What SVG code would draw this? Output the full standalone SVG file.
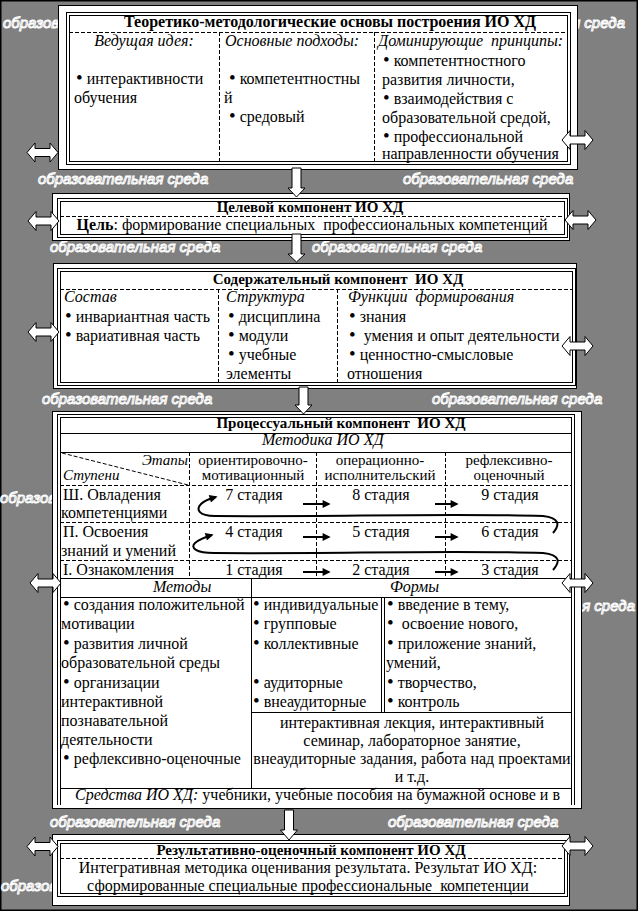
<svg xmlns="http://www.w3.org/2000/svg" width="640" height="912" viewBox="0 0 640 912">
<defs>
<style>
.bg{fill:#808080;stroke:#000;stroke-width:1.5}
.env{font-family:"Liberation Sans",Arial,sans-serif;font-style:italic;font-size:15px;fill:#808080;stroke:#fff;stroke-width:1}
.box{fill:#fff;stroke:#000;stroke-width:1}
.dbl{fill:none;stroke:#000;stroke-width:1}
.dash{fill:none;stroke:#000;stroke-width:1;stroke-dasharray:4 2}
.sol{fill:none;stroke:#000;stroke-width:1}
.t{font-family:"Liberation Serif","Times New Roman",serif;font-size:16px;fill:#000}
.s{font-size:15px}
.h{font-size:15px}
.b{font-weight:bold}
.i{font-style:italic}
.m{text-anchor:middle}
.e{text-anchor:end}
.u{font-size:19px}
.blk{fill:#fff;stroke:#000;stroke-width:1}
.flow{fill:none;stroke:#000;stroke-width:2}
</style>
<path id="dar" d="M0,0 L8,-9.5 L8,-4 L23,-4 L23,-9.5 L31,0 L23,9.5 L23,4 L8,4 L8,9.5 Z"/>
<marker id="ah" viewBox="0 0 10 10" refX="8" refY="5" markerWidth="5" markerHeight="4" orient="auto" markerUnits="strokeWidth">
<path d="M0,0 L10,5 L0,10 Z" fill="#000"/>
</marker>
<clipPath id="gray">
<path clip-rule="evenodd" d="M-10,-10 H650 V920 H-10 Z M58.5,5.5 H577.5 V169.5 H58.5 Z M52.5,193.5 H569.5 V240.5 H52.5 Z M53.5,263.5 H576.5 V388.5 H53.5 Z M52.5,411.5 H581.5 V808.5 H52.5 Z M52.5,834.5 H569.5 V905.5 H52.5 Z"/>
</clipPath>
</defs>
<rect x="0" y="0" width="640" height="912" fill="#fff"/>
<rect class="bg" x="0.75" y="0.75" width="636.5" height="909.5"/>
<g id="environment" clip-path="url(#gray)">
<text class="env" x="3" y="28">образовательная среда</text>
<text class="env e" x="625" y="28">образовательная среда</text>
<text class="env" x="38" y="184">образовательная среда</text>
<text class="env" x="403" y="184">образовательная среда</text>
<text class="env" x="50" y="252">образовательная среда</text>
<text class="env" x="312" y="252">образовательная среда</text>
<text class="env" x="42" y="404">образовательная среда</text>
<text class="env" x="432" y="404">образовательная среда</text>
<text class="env" x="0" y="503">образовательная среда</text>
<text class="env e" x="635" y="611">образовательная среда</text>
<text class="env" x="50" y="827">образовательная среда</text>
<text class="env" x="388" y="827">образовательная среда</text>
<text class="env" x="1" y="891">образовательная среда</text>
</g>
<g id="theory">
<rect class="box" x="58.5" y="5.5" width="519" height="164"/>
<rect class="dbl" x="66.5" y="12.5" width="504" height="152"/>
<rect class="dbl" x="69.5" y="15.5" width="498" height="146"/>
<path class="dash" d="M69,32.5 H568 M219.5,32 V161 M374.5,32 V161"/>
<text class="t b m" x="330" y="27">Теоретико-методологические основы построения ИО ХД</text>
<text class="t i m" x="144" y="46">Ведущая идея:</text>
<text class="t" x="76" y="84"><tspan class="u">•</tspan> интерактивности</text>
<text class="t" x="74" y="103">обучения</text>
<text class="t i" x="225" y="46">Основные подходы:</text>
<text class="t" x="229" y="84"><tspan class="u">•</tspan> компетентностны</text>
<text class="t" x="224" y="103">й</text>
<text class="t" x="229" y="122"><tspan class="u">•</tspan> средовый</text>
<text class="t i" x="378" y="46" xml:space="preserve">Доминирующие  принципы:</text>
<text class="t" x="383" y="66"><tspan class="u">•</tspan> компетентностного</text>
<text class="t" x="382" y="85">развития личности,</text>
<text class="t" x="383" y="104"><tspan class="u">•</tspan> взаимодействия с</text>
<text class="t" x="382" y="123">образовательной средой,</text>
<text class="t" x="383" y="142"><tspan class="u">•</tspan> профессиональной</text>
<text class="t" x="382" y="159">направленности обучения</text>
</g>
<g id="goal">
<rect class="box" x="52.5" y="193.5" width="517" height="47"/>
<rect class="dbl" x="57.5" y="198.5" width="510" height="39"/>
<rect class="dbl" x="60.5" y="201.5" width="504" height="33"/>
<path class="dash" d="M60,216.5 H565"/>
<text class="t h b m" x="310" y="212">Целевой компонент ИО ХД</text>
<text class="t m" x="312" y="230" xml:space="preserve"><tspan class="b">Цель</tspan>: формирование специальных  профессиональных компетенций</text>
</g>
<g id="content">
<rect class="box" x="53.5" y="263.5" width="523" height="125"/>
<rect class="dbl" x="57.5" y="268.5" width="518" height="117"/>
<rect class="dbl" x="60.5" y="271.5" width="512" height="111"/>
<path class="dash" d="M60,289.5 H573 M218.5,289 V383 M337.5,289 V383"/>
<text class="t h b m" x="338" y="284" xml:space="preserve">Содержательный компонент  ИО ХД</text>
<text class="t i" x="64" y="302">Состав</text>
<text class="t" x="65" y="322"><tspan class="u">•</tspan> инвариантная часть</text>
<text class="t" x="65" y="341"><tspan class="u">•</tspan> вариативная часть</text>
<text class="t i" x="226" y="302">Структура</text>
<text class="t" x="228" y="322"><tspan class="u">•</tspan> дисциплина</text>
<text class="t" x="228" y="341"><tspan class="u">•</tspan> модули</text>
<text class="t" x="228" y="360"><tspan class="u">•</tspan> учебные</text>
<text class="t" x="226" y="379">элементы</text>
<text class="t i" x="348" y="302" xml:space="preserve">Функции  формирования</text>
<text class="t" x="349" y="322"><tspan class="u">•</tspan> знания</text>
<text class="t" x="349" y="341" xml:space="preserve"><tspan class="u">•</tspan>  умения и опыт деятельности</text>
<text class="t" x="349" y="360"><tspan class="u">•</tspan> ценностно-смысловые</text>
<text class="t" x="347" y="379">отношения</text>
</g>
<g id="process">
<rect class="box" x="52.5" y="411.5" width="529" height="397"/>
<path class="sol" d="M57.5,414 V805 M60.5,417 V805 M571.5,417 V805 M574.5,414 V805 M57,414.5 H575 M60,417.5 H572"/>
<path class="sol" d="M60,433.5 H572 M60,452.5 H572 M60,578.5 H572 M60,597.5 H572 M251,712.5 H572 M60,788.5 H572 M251.5,578 V788 M381.5,597 V712 M384.5,597 V712"/>
<path class="dash" d="M60,485.5 H572 M60,522.5 H572 M60,560.5 H572 M189.5,452 V578 M316.5,452 V578 M445.5,452 V578 M62,453 L188,485"/>
<text class="t h b m" x="341" y="428" xml:space="preserve">Процессуальный компонент  ИО ХД</text>
<text class="t i" x="262" y="445">Методика ИО ХД</text>
<text class="t i s e" x="188" y="465">Этапы</text>
<text class="t i s" x="63" y="480">Ступени</text>
<text class="t s m" x="253" y="465">ориентировочно-</text>
<text class="t s m" x="253" y="480">мотивационный</text>
<text class="t s m" x="380" y="465">операционно-</text>
<text class="t s m" x="380" y="480">исполнительский</text>
<text class="t s m" x="509" y="465">рефлексивно-</text>
<text class="t s m" x="509" y="480">оценочный</text>
<text class="t" x="63" y="500">Ш. Овладения</text>
<text class="t" x="61" y="518">компетенциями</text>
<text class="t" x="63" y="537">П. Освоения</text>
<text class="t" x="61" y="556">знаний и умений</text>
<text class="t" x="63" y="575">I. Ознакомления</text>
<text class="t m" x="254" y="500">7 стадия</text>
<text class="t m" x="381" y="500">8 стадия</text>
<text class="t m" x="510" y="500">9 стадия</text>
<text class="t m" x="254" y="537">4 стадия</text>
<text class="t m" x="381" y="537">5 стадия</text>
<text class="t m" x="510" y="537">6 стадия</text>
<text class="t m" x="254" y="575">1 стадия</text>
<text class="t m" x="381" y="575">2 стадия</text>
<text class="t m" x="510" y="575">3 стадия</text>
<text class="t i" x="153" y="592">Методы</text>
<text class="t i" x="390" y="592">Формы</text>
<text class="t" x="63" y="610"><tspan class="u">•</tspan> создания положительной</text>
<text class="t" x="61" y="629">мотивации</text>
<text class="t" x="63" y="649"><tspan class="u">•</tspan> развития личной</text>
<text class="t" x="61" y="668">образовательной среды</text>
<text class="t" x="63" y="688"><tspan class="u">•</tspan> организации</text>
<text class="t" x="61" y="707">интерактивной</text>
<text class="t" x="61" y="726">познавательной</text>
<text class="t" x="61" y="745">деятельности</text>
<text class="t" x="63" y="764"><tspan class="u">•</tspan> рефлексивно-оценочные</text>
<text class="t" x="253" y="610"><tspan class="u">•</tspan> индивидуальные</text>
<text class="t" x="253" y="629"><tspan class="u">•</tspan> групповые</text>
<text class="t" x="253" y="649"><tspan class="u">•</tspan> коллективные</text>
<text class="t" x="253" y="688"><tspan class="u">•</tspan> аудиторные</text>
<text class="t" x="253" y="707"><tspan class="u">•</tspan> внеаудиторные</text>
<text class="t" x="387" y="610"><tspan class="u">•</tspan> введение в тему,</text>
<text class="t" x="387" y="629" xml:space="preserve"><tspan class="u">•</tspan>  освоение нового,</text>
<text class="t" x="387" y="649"><tspan class="u">•</tspan> приложение знаний,</text>
<text class="t" x="386" y="668">умений,</text>
<text class="t" x="387" y="688"><tspan class="u">•</tspan> творчество,</text>
<text class="t" x="387" y="707"><tspan class="u">•</tspan> контроль</text>
<text class="t m" x="412" y="728">интерактивная лекция, интерактивный</text>
<text class="t m" x="412" y="746">семинар, лабораторное занятие,</text>
<text class="t m" x="412" y="764">внеаудиторные задания, работа над проектами</text>
<text class="t m" x="412" y="782">и т.д.</text>
<text class="t" x="75" y="800"><tspan class="i">Средства ИО ХД:</tspan> учебники, учебные пособия на бумажной основе и в</text>
</g>
<g id="result">
<rect class="box" x="52.5" y="834.5" width="517" height="71"/>
<rect class="dbl" x="57.5" y="840.5" width="510" height="56"/>
<rect class="dbl" x="60.5" y="843.5" width="504" height="50"/>
<path class="dash" d="M60,858.5 H565"/>
<text class="t h b m" x="311" y="855">Результативно-оценочный компонент ИО ХД</text>
<text class="t m" x="308" y="873">Интегративная методика оценивания результата. Результат ИО ХД:</text>
<text class="t m" x="308" y="891" xml:space="preserve">сформированные специальные профессиональные  компетенции</text>
</g>
<g id="connectors">
<path class="blk" d="M292,168 H301 V188 H305 L296.5,197 L288,188 H292 Z"/>
<path class="blk" d="M292,234 H301 V254 H305 L296.5,262 L288,254 H292 Z"/>
<path class="blk" d="M299,387 H308 V405 H312 L303.5,414 L295,405 H299 Z"/>
<path class="blk" d="M284.5,810 H293.5 V830 H297.5 L289,840 L280.5,830 H284.5 Z"/>
<use href="#dar" class="blk" x="27" y="152.5"/>
<use href="#dar" class="blk" x="562" y="140"/>
<use href="#dar" class="blk" x="28" y="221"/>
<use href="#dar" class="blk" x="565" y="220"/>
<use href="#dar" class="blk" x="28" y="332"/>
<use href="#dar" class="blk" x="562" y="346"/>
<use href="#dar" class="blk" x="30" y="583"/>
<use href="#dar" class="blk" x="562" y="583"/>
<use href="#dar" class="blk" x="27" y="846.5"/>
<use href="#dar" class="blk" x="562" y="846"/>
<path class="flow" marker-end="url(#ah)" d="M303,504 H329"/>
<path class="flow" marker-end="url(#ah)" d="M435,504 H457"/>
<path class="flow" marker-end="url(#ah)" d="M303,537 H329"/>
<path class="flow" marker-end="url(#ah)" d="M435,537 H457"/>
<path class="flow" marker-end="url(#ah)" d="M303,572 H329"/>
<path class="flow" marker-end="url(#ah)" d="M435,572 H457"/>
<path class="flow" marker-end="url(#ah)" d="M553,533 C560,525 560,518 543,516 C450,513 330,517 215,516 C198,516 196,509 201,504 C205,500 209,499 216,497"/>
<path class="flow" marker-end="url(#ah)" d="M553,570 C560,562 561,555 543,553 C450,550 330,554 214,553 C196,553 190,548 195,543 C200,539 205,537 212,535"/>
</g>
</svg>
